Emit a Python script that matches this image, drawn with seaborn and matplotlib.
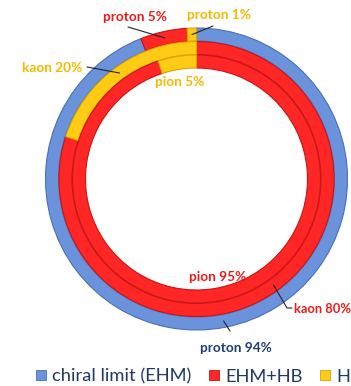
import numpy as np
import matplotlib
matplotlib.use("Agg")
import matplotlib.pyplot as plt
from matplotlib.lines import Line2D
import seaborn as sns

# Mass-budget components shared by every ring
components = ["chiral limit (EHM)", "EHM+HB", "HB"]
colors = ["#6B93DC", "#FF2626", "#FFCB14"]
edge_colors = ["#4A6FB8", "#C81414", "#D9A500"]

# Percent of each hadron's mass in each component (outer -> inner ring)
hadrons = ["proton", "kaon", "pion"]
proton = [94, 5, 1]
kaon = [0, 80, 20]
pion = [0, 95, 5]
rings = [proton, kaon, pion]

sns.set_theme(style="white")
plt.rcParams["font.family"] = ["Lato", "DejaVu Sans"]

W, H = 351, 386
fig = plt.figure(figsize=(W / 100, H / 100), dpi=100)
ax = fig.add_axes([0, 0, 1, 1])

cx, cy = 196.5, H - 179.0
radii = [151, 137.5, 124]
width = 13.0

wedge_info = {}
for hadron, vals, r in zip(hadrons, rings, radii):
    keep = [i for i, v in enumerate(vals) if v > 0]
    v = [vals[i] for i in keep]
    wedges, _ = ax.pie(
        v,
        colors=[colors[i] for i in keep],
        radius=r,
        center=(cx, cy),
        startangle=90,
        counterclock=False,
        wedgeprops=dict(width=width, linewidth=0.8),
        frame=True,
    )
    for w, i in zip(wedges, keep):
        w.set_edgecolor(edge_colors[i])
        wedge_info[(hadron, i)] = w

ax.set_xlim(0, W)
ax.set_ylim(0, H)
ax.set_aspect("equal")
ax.axis("off")


def mid_point(hadron, comp):
    w = wedge_info[(hadron, comp)]
    ang = np.deg2rad((w.theta1 + w.theta2) / 2)
    rr = w.r - width / 2
    return cx + rr * np.cos(ang), cy + rr * np.sin(ang)


label_color = {0: "#1F3C7A", 1: "#F01818", 2: "#F5B800"}
ringvals = dict(zip(hadrons, rings))

# (hadron, component, text position in px from top-left, leader start or None, ha)
annotations = [
    ("proton", 1, (135, 17), (128, 27), "center"),
    ("proton", 2, (219, 15), (213, 26), "center"),
    ("kaon", 2, (52, 68), (87, 67), "center"),
    ("pion", 2, (180, 82), None, "center"),
    ("pion", 1, (218, 277), None, "center"),
    ("kaon", 1, (294, 309), (287, 308), "left"),
    ("proton", 0, (236, 348), (230, 331), "center"),
]
for hadron, comp, (tx, ty), lead, ha in annotations:
    val = ringvals[hadron][comp]
    fs = 9.3 if ha == "left" else 9.8
    ax.text(tx, H - ty, f"{hadron} {val}%", color=label_color[comp],
            fontsize=fs, fontweight="bold", ha=ha, va="center")
    if lead is not None:
        px, py = mid_point(hadron, comp)
        xs = [lead[0], px]
        ys = [H - lead[1], py]
        if ha == "left":
            xs = [lead[0] + 5, lead[0], px]
            ys = [H - lead[1], H - lead[1], py]
        ax.plot(xs, ys, color="#222222", linewidth=0.8)

# Legend entries laid out along the bottom edge
legend_x = [34, 207, 318]
for name, c, e, lx in zip(components, colors, edge_colors, legend_x):
    h = Line2D([], [], marker="s", linestyle="none", markersize=7.4,
               markerfacecolor=c, markeredgecolor=e, markeredgewidth=0.6)
    leg = fig.legend([h], [name], loc="center left",
                     bbox_to_anchor=(lx / W, 1 - 376.5 / H), frameon=False,
                     fontsize=13.2, handletextpad=0.25, borderaxespad=0,
                     borderpad=0, handlelength=0.75)
    leg.get_texts()[0].set_color("#1F3864")

fig.savefig("out.png", dpi=100)
